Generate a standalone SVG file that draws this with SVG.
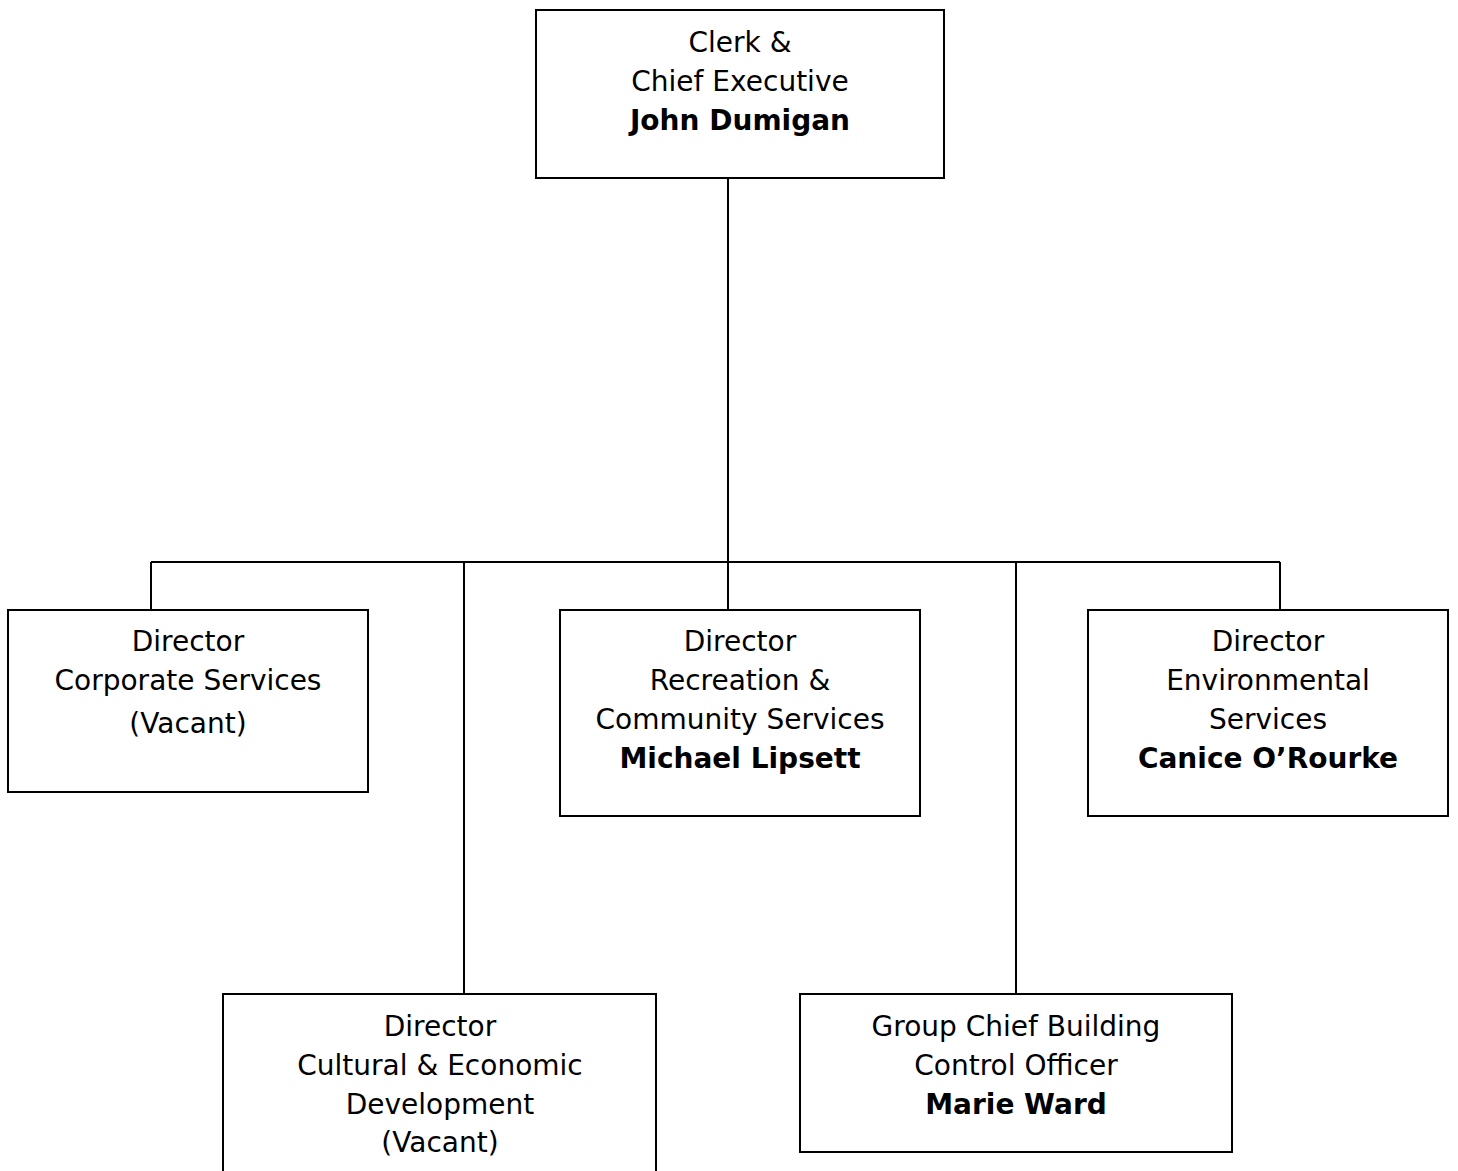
<svg xmlns="http://www.w3.org/2000/svg" width="1458" height="1171" viewBox="0 0 1458 1171">
<style>
.box{fill:#fff;stroke:#000;stroke-width:2}
.con{fill:none;stroke:#000;stroke-width:2}
text{font-family:"DejaVu Sans","Liberation Sans",sans-serif;font-size:28px;text-anchor:middle;fill:#000}
.b{font-weight:bold}
</style>
<rect x="0" y="0" width="1458" height="1171" fill="#fff"/>
<g id="connectors">
<path class="con" d="M728 178V562M151 562H1280M151 562V610M464 562V994M728 562V610M1016 562V994M1280 562V610"/>
</g>
<g id="ceo">
<rect class="box" x="536" y="10" width="408" height="168"/>
<text x="740" y="52">Clerk &amp;</text>
<text x="740" y="91">Chief Executive</text>
<text x="740" y="130" class="b">John Dumigan</text>
</g>
<g id="corporate">
<rect class="box" x="8" y="610" width="360" height="182"/>
<text x="188" y="651">Director</text>
<text x="188" y="690">Corporate Services</text>
<text x="188" y="733">(Vacant)</text>
</g>
<g id="recreation">
<rect class="box" x="560" y="610" width="360" height="206"/>
<text x="740" y="651">Director</text>
<text x="740" y="690">Recreation &amp;</text>
<text x="740" y="729">Community Services</text>
<text x="740" y="768" class="b">Michael Lipsett</text>
</g>
<g id="environmental">
<rect class="box" x="1088" y="610" width="360" height="206"/>
<text x="1268" y="651">Director</text>
<text x="1268" y="690">Environmental</text>
<text x="1268" y="729">Services</text>
<text x="1268" y="768" class="b">Canice O’Rourke</text>
</g>
<g id="cultural">
<path class="box" d="M223 1172V994H656V1172"/>
<text x="440" y="1036">Director</text>
<text x="440" y="1075">Cultural &amp; Economic</text>
<text x="440" y="1114">Development</text>
<text x="440" y="1152">(Vacant)</text>
</g>
<g id="building">
<rect class="box" x="800" y="994" width="432" height="158"/>
<text x="1016" y="1036">Group Chief Building</text>
<text x="1016" y="1075">Control Officer</text>
<text x="1016" y="1114" class="b">Marie Ward</text>
</g>
</svg>
